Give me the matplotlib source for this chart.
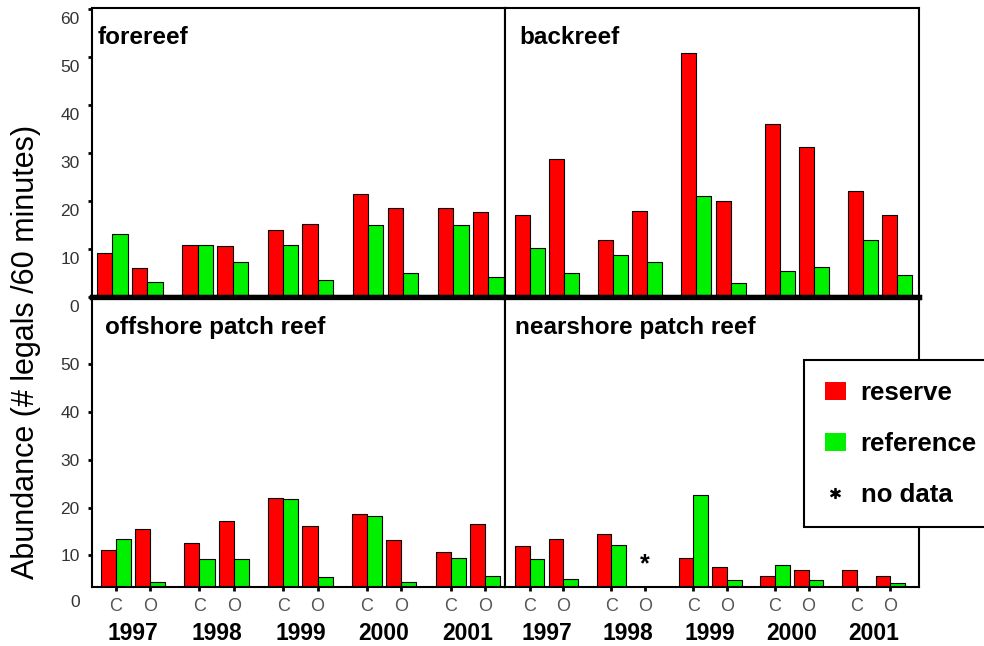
import numpy as np
import matplotlib
matplotlib.use("Agg")
import matplotlib.pyplot as plt
from matplotlib.patches import Patch
from matplotlib.lines import Line2D
from matplotlib.transforms import ScaledTranslation

plt.rcParams['font.family'] = ['Liberation Sans', 'DejaVu Sans']

# data: values per year in order C, O (1997 .. 2001)
years = ['1997', '1998', '1999', '2000', '2001']
sites = ['C', 'O']

forereef_reserve = [9.1, 6.1, 10.9, 10.6, 14.0, 15.3, 21.4, 18.6, 18.6, 17.7]
forereef_reference = [13.1, 3.2, 10.9, 7.3, 10.9, 3.6, 14.9, 5.1, 14.9, 4.2]
backreef_reserve = [17.1, 28.7, 11.9, 18.0, 50.9, 20.1, 36.1, 31.2, 22.0, 17.1]
backreef_reference = [10.3, 5.1, 8.8, 7.3, 21.1, 2.9, 5.4, 6.3, 11.9, 4.5]
offshore_reserve = [11.0, 15.6, 12.5, 17.2, 22.0, 16.2, 18.7, 13.1, 10.7, 16.5]
offshore_reference = [13.5, 4.5, 9.2, 9.2, 21.7, 5.5, 18.3, 4.5, 9.4, 5.7]
nearshore_reserve = [11.9, 13.5, 14.4, np.nan, 9.5, 7.6, 5.7, 7.0, 7.0, 5.7]
nearshore_reference = [9.2, 5.1, 12.2, np.nan, 22.7, 4.8, 7.9, 4.8, 2.0, 4.2]

RED = '#ff0000'
GREEN = '#00f000'
W = 0.18          # bar width in "year" units
SITE_OFF = [0.0, 0.41]

fig = plt.figure(figsize=(9.84, 6.46), dpi=100)
fw, fh = 984, 646

def box(x0, y0, x1, y1):
    return [x0 / fw, 1 - y1 / fh, (x1 - x0) / fw, (y1 - y0) / fh]

panels = [
    dict(title='forereef', res=forereef_reserve, ref=forereef_reference,
         pos=box(92, 8, 505, 297), xlim=(-0.059, 4.786), top=True, left=True, tx=6),
    dict(title='backreef', res=backreef_reserve, ref=backreef_reference,
         pos=box(505, 8, 919, 297), xlim=(-0.12, 4.853), top=True, left=False, tx=14),
    dict(title='offshore patch reef', res=offshore_reserve, ref=offshore_reference,
         pos=box(92, 297, 505, 587), xlim=(-0.104, 4.83), top=False, left=True, tx=13),
    dict(title='nearshore patch reef', res=nearshore_reserve, ref=nearshore_reference,
         pos=box(505, 297, 919, 587), xlim=(-0.122, 4.94), top=False, left=False, tx=10),
]

for p in panels:
    ax = fig.add_axes(p['pos'])
    res = np.array(p['res'])
    ref = np.array(p['ref'])
    x = np.array([i + SITE_OFF[j] for i in range(len(years)) for j in range(len(sites))])
    ax.bar(x, np.nan_to_num(res), W, align='edge', color=RED, edgecolor='black', linewidth=0.8)
    ax.bar(x + W, np.nan_to_num(ref), W, align='edge', color=GREEN, edgecolor='black', linewidth=0.8)
    # missing data marker
    for xi, r in zip(x, res):
        if np.isnan(r):
            ax.text(xi + W, 8, '*', ha='center', va='center', fontsize=18, fontweight='bold')
    ax.set_xlim(*p['xlim'])

    for s in ax.spines.values():
        s.set_linewidth(1.5)
        s.set_color('black')

    if p['top']:
        ax.set_ylim(0, 60.2)
        ax.spines['bottom'].set_linewidth(3.8)
        ax.set_xticks([])
        yt = [0, 10, 20, 30, 40, 50, 60]
    else:
        ax.set_ylim(3.35, 64.1)
        ax.spines['top'].set_linewidth(3.8)
        yt = [10, 20, 30, 40, 50]
        ax.set_xticks(x + W, sites * len(years))
        ax.tick_params(axis='x', which='major', length=3, width=2, pad=5,
                       labelsize=13, labelcolor='#555555')
        ax.set_xticks(np.arange(len(years)) + 0.385, years, minor=True)
        ax.tick_params(axis='x', which='minor', length=0, pad=25, labelsize=16.5)
        for lab in ax.get_xticklabels(minor=True):
            lab.set_fontweight('bold')

    if p['left']:
        ax.set_yticks(yt)
        ax.tick_params(axis='y', length=3, width=2, pad=6, labelsize=12.5, labelcolor='#333333')
        if p['top']:
            off = ScaledTranslation(0, -9 / 100, fig.dpi_scale_trans)
            for lab in ax.get_yticklabels():
                lab.set_transform(lab.get_transform() + off)
        else:
            ax.annotate('0', xy=(0, 0), xycoords=('axes fraction', 'data'),
                        xytext=(-8.5, 0), textcoords='offset points', ha='right', va='center',
                        fontsize=12.5, color='#333333', annotation_clip=False)
    else:
        ax.set_yticks([])

    ax.text(p['tx'] / (p['pos'][2] * fw), 1 - 30 / 289, p['title'], transform=ax.transAxes,
            ha='left', va='center', fontsize=17.5, fontweight='bold')

fig.text(26 / fw, 1 - 352 / fh, 'Abundance (# legals /60 minutes)', rotation=90,
         ha='center', va='center', fontsize=22)

handles = [Patch(facecolor=RED, edgecolor='none'),
           Patch(facecolor=GREEN, edgecolor='none'),
           Line2D([], [], ls='none', marker='$*$', color='black', markersize=7)]
leg = fig.legend(handles, ['reserve', 'reference', 'no data'], loc='upper left',
                 bbox_to_anchor=(804 / fw, 1 - 360 / fh), borderaxespad=0,
                 frameon=True, fancybox=False, edgecolor='black', framealpha=1,
                 borderpad=0.8, labelspacing=1.05, handlelength=0.85, handleheight=0.7,
                 handletextpad=0.55, prop=dict(weight='bold', size=18.5))
leg.get_frame().set_linewidth(1.5)

fig.savefig('out.png', dpi=100, facecolor='white')
